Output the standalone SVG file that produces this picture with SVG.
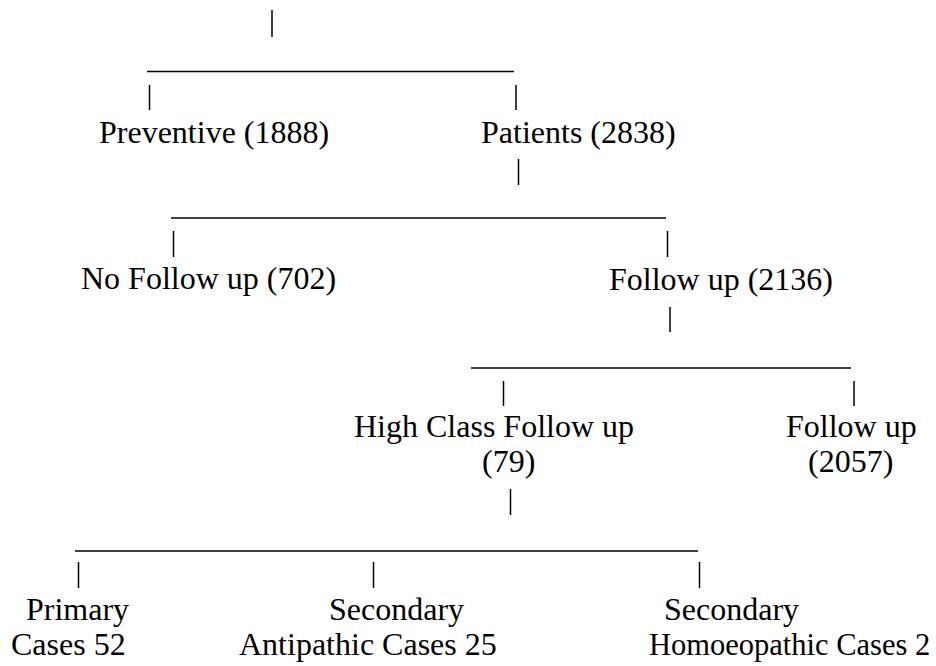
<svg xmlns="http://www.w3.org/2000/svg" width="936" height="666" viewBox="0 0 936 666">
<style>
  text { font-family: "Liberation Serif", "Times New Roman", serif; font-size: 32px; fill: #000; }
  text.fit { font-size: 30.5px; }
  .c line { stroke: #000; stroke-width: 1.5; fill: none; }
</style>
<rect width="936" height="666" fill="#fff"/>
<g id="connectors" class="c">
  <line x1="272" y1="10" x2="272" y2="37"/>
  <line x1="147" y1="71.5" x2="514" y2="71.5"/>
  <line x1="149.5" y1="85" x2="149.5" y2="110"/>
  <line x1="516" y1="85" x2="516" y2="110"/>
  <line x1="518.5" y1="159" x2="518.5" y2="185"/>
  <line x1="171" y1="218" x2="666" y2="218"/>
  <line x1="173.5" y1="231" x2="173.5" y2="257"/>
  <line x1="667.5" y1="231" x2="667.5" y2="257"/>
  <line x1="670" y1="307" x2="670" y2="332"/>
  <line x1="471" y1="368" x2="851" y2="368"/>
  <line x1="503.5" y1="381" x2="503.5" y2="406"/>
  <line x1="854" y1="381" x2="854" y2="406"/>
  <line x1="510.5" y1="489" x2="510.5" y2="515"/>
  <line x1="75" y1="551" x2="698" y2="551"/>
  <line x1="78.5" y1="562" x2="78.5" y2="588"/>
  <line x1="373.5" y1="562" x2="373.5" y2="588"/>
  <line x1="699.5" y1="562" x2="699.5" y2="588"/>
</g>
<g id="preventive"><text x="99" y="143">Preventive (1888)</text></g>
<g id="patients"><text x="481" y="143">Patients (2838)</text></g>
<g id="no-follow-up"><text x="81" y="289">No Follow up (702)</text></g>
<g id="follow-up-2136"><text x="609" y="290">Follow up (2136)</text></g>
<g id="high-class"><text x="354" y="437">High Class Follow up</text><text x="482" y="472">(79)</text></g>
<g id="follow-up-2057"><text x="786" y="437">Follow up</text><text x="808" y="472">(2057)</text></g>
<g id="primary"><text x="26" y="620">Primary</text><text x="11" y="655">Cases 52</text></g>
<g id="antipathic"><text x="329" y="620">Secondary</text><text x="239" y="655">Antipathic Cases 25</text></g>
<g id="homoeopathic"><text x="664" y="620">Secondary</text><text class="fit" x="649" y="655">Homoeopathic Cases 2</text></g>
</svg>
